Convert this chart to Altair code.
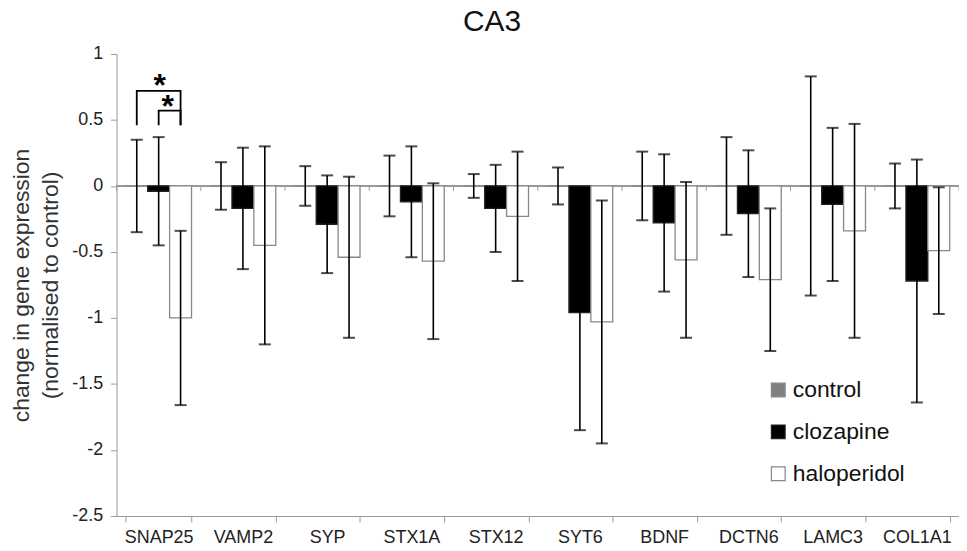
import altair as alt
import pandas as pd

genes = ["SNAP25", "VAMP2", "SYP", "STX1A", "STX12", "SYT6", "BDNF", "DCTN6", "LAMC3", "COL1A1"]
groups = ["control", "clozapine", "haloperidol"]

control_mean = [0, 0, 0, 0, 0, 0, 0, 0, 0, 0]
control_err = [0.35, 0.18, 0.15, 0.23, 0.09, 0.14, 0.26, 0.37, 0.83, 0.17]
clozapine_mean = [-0.04, -0.17, -0.29, -0.12, -0.17, -0.96, -0.28, -0.21, -0.14, -0.72]
clozapine_err = [0.41, 0.46, 0.37, 0.42, 0.33, 0.89, 0.52, 0.48, 0.58, 0.92]
haloperidol_mean = [-1.0, -0.45, -0.54, -0.57, -0.23, -1.03, -0.56, -0.71, -0.34, -0.49]
haloperidol_err = [0.66, 0.75, 0.61, 0.59, 0.49, 0.92, 0.59, 0.54, 0.81, 0.48]

y_ticks = [1, 0.5, 0, -0.5, -1, -1.5, -2, -2.5]

# significance brackets (SNAP25): group, y-value, path order
bracket_id = ["a", "a", "a", "a", "b", "b", "b", "b"]
bracket_group = ["control", "control", "haloperidol", "haloperidol",
                 "clozapine", "clozapine", "haloperidol", "haloperidol"]
bracket_y = [0.46, 0.72, 0.72, 0.46, 0.46, 0.57, 0.57, 0.46]
bracket_order = [0, 1, 2, 3, 0, 1, 2, 3]

means = {"control": control_mean, "clozapine": clozapine_mean, "haloperidol": haloperidol_mean}
errs = {"control": control_err, "clozapine": clozapine_err, "haloperidol": haloperidol_err}
rows = []
for g in groups:
    for i, gene in enumerate(genes):
        m = means[g][i]
        e = errs[g][i]
        rows.append({"gene": gene, "group": g, "mean": m, "lo": m - e, "hi": m + e})
df = pd.DataFrame(rows)

br = pd.DataFrame({"gene": ["SNAP25"] * len(bracket_id), "id": bracket_id,
                   "group": bracket_group, "y": bracket_y, "order": bracket_order})
star_big = pd.DataFrame({"gene": ["SNAP25"], "group": ["clozapine"], "y": [0.755]})
star_small = pd.DataFrame({"gene": ["SNAP25"], "group": ["clozapine"], "y": [0.60]})
genes_df = pd.DataFrame({"gene": genes})
last_df = pd.DataFrame({"gene": [genes[-1]]})

FONT = "Liberation Sans"
STEP_PAD = 0.11 * 84.6  # half of the inner band padding, in pixels

xscale = alt.Scale(paddingInner=0.22, paddingOuter=0.11)
x_axis = alt.Axis(title=None, labelFontSize=18, labelColor="#222", bandPosition=0.5,
                  labelFont=FONT, domainColor="#999", tickColor="#999", tickSize=6,
                  tickBand="extent", labelPadding=7, labelAngle=0)
xenc = alt.X("gene:N", sort=genes, scale=xscale, axis=x_axis)
xplain = alt.X("gene:N", sort=genes, axis=x_axis)
xoff = alt.XOffset("group:N", sort=groups, scale=alt.Scale(paddingInner=0, paddingOuter=0))
yscale = alt.Scale(domain=[-2.5, 1], nice=False, zero=False)

zero_line = alt.Chart(genes_df).mark_rule(color="#999", strokeWidth=1).encode(
    y=alt.datum(0))
zero_ticks = alt.Chart(genes_df).mark_rule(color="#999", strokeWidth=1, y2Offset=5,
                                           xOffset=-STEP_PAD).encode(
    x=alt.X("gene:N", sort=genes, bandPosition=0, axis=x_axis),
    y=alt.datum(0), y2=alt.datum(0))
zero_last = alt.Chart(last_df).mark_rule(color="#999", strokeWidth=1, y2Offset=5,
                                         xOffset=STEP_PAD).encode(
    x=alt.X("gene:N", sort=genes, bandPosition=1, axis=x_axis),
    y=alt.datum(0), y2=alt.datum(0))

bars = alt.Chart(df).mark_bar(strokeWidth=1.3).encode(
    x=xenc,
    xOffset=xoff,
    y=alt.Y("mean:Q", scale=yscale,
            axis=alt.Axis(values=y_ticks, labelExpr="datum.value + ''",
                          title=["change in gene expression", "(normalised to control)"],
                          titleFontSize=23, titleFontWeight="normal", titleColor="#333",
                          titleFont=FONT, titleLineHeight=29,
                          titleX=-83, titleY=232, titleBaseline="bottom", titleAngle=270,
                          titleAlign="center",
                          labelFontSize=18, labelColor="#222", labelFont=FONT,
                          labelPadding=8, domainColor="#999", tickColor="#999",
                          tickSize=6, grid=False)),
    fill=alt.Fill("group:N", sort=groups,
                  scale=alt.Scale(domain=groups, range=["#808080", "#000000", "#ffffff"]),
                  legend=alt.Legend(title=None, orient="none", legendX=653, legendY=326,
                                    symbolType="square", symbolSize=190,
                                    labelFontSize=23, labelFont=FONT, labelColor="#111",
                                    rowPadding=18, labelOffset=3, symbolStrokeWidth=1.2)),
    stroke=alt.Stroke("group:N", sort=groups,
                      scale=alt.Scale(domain=groups, range=["#888888", "#222222", "#888888"]),
                      legend=None),
)

err = alt.Chart(df).mark_rule(color="#000", strokeWidth=1.6).encode(
    x=xplain, xOffset=xoff,
    y=alt.Y("lo:Q", scale=yscale), y2="hi:Q")
cap_lo = alt.Chart(df).mark_tick(color="#000", size=12, thickness=2).encode(
    x=xplain, xOffset=xoff, y=alt.Y("lo:Q", scale=yscale))
cap_hi = alt.Chart(df).mark_tick(color="#000", size=12, thickness=2).encode(
    x=xplain, xOffset=xoff, y=alt.Y("hi:Q", scale=yscale))

brackets = alt.Chart(br).mark_line(color="#000", strokeWidth=1.8).encode(
    x=xplain, xOffset=xoff,
    y=alt.Y("y:Q", scale=yscale), detail="id:N", order="order:Q")

t_big = alt.Chart(star_big).mark_text(text="*", fontSize=32, fontWeight="bold",
                                      font=FONT, baseline="middle", dx=1).encode(
    x=xplain, xOffset=xoff, y=alt.Y("y:Q", scale=yscale))
t_small = alt.Chart(star_small).mark_text(text="*", fontSize=32, fontWeight="bold",
                                          font=FONT, baseline="middle", dx=9).encode(
    x=xplain, xOffset=xoff, y=alt.Y("y:Q", scale=yscale))

chart = alt.layer(zero_line, zero_ticks, zero_last, bars, err, cap_lo, cap_hi,
                  brackets, t_big, t_small).properties(
    width=846, height=464,
    title=alt.TitleParams("CA3", fontSize=30, fontWeight="normal", font=FONT,
                          color="#111", anchor="middle", frame="group", offset=8, dx=-46),
    autosize=alt.AutoSizeParams(type="none"),
    padding={"left": 109, "top": 45, "right": 0, "bottom": 32},
).configure(background="white", view=alt.ViewConfig(stroke=None))

chart.save("out.html", embed_options={"renderer": "svg", "actions": False})
